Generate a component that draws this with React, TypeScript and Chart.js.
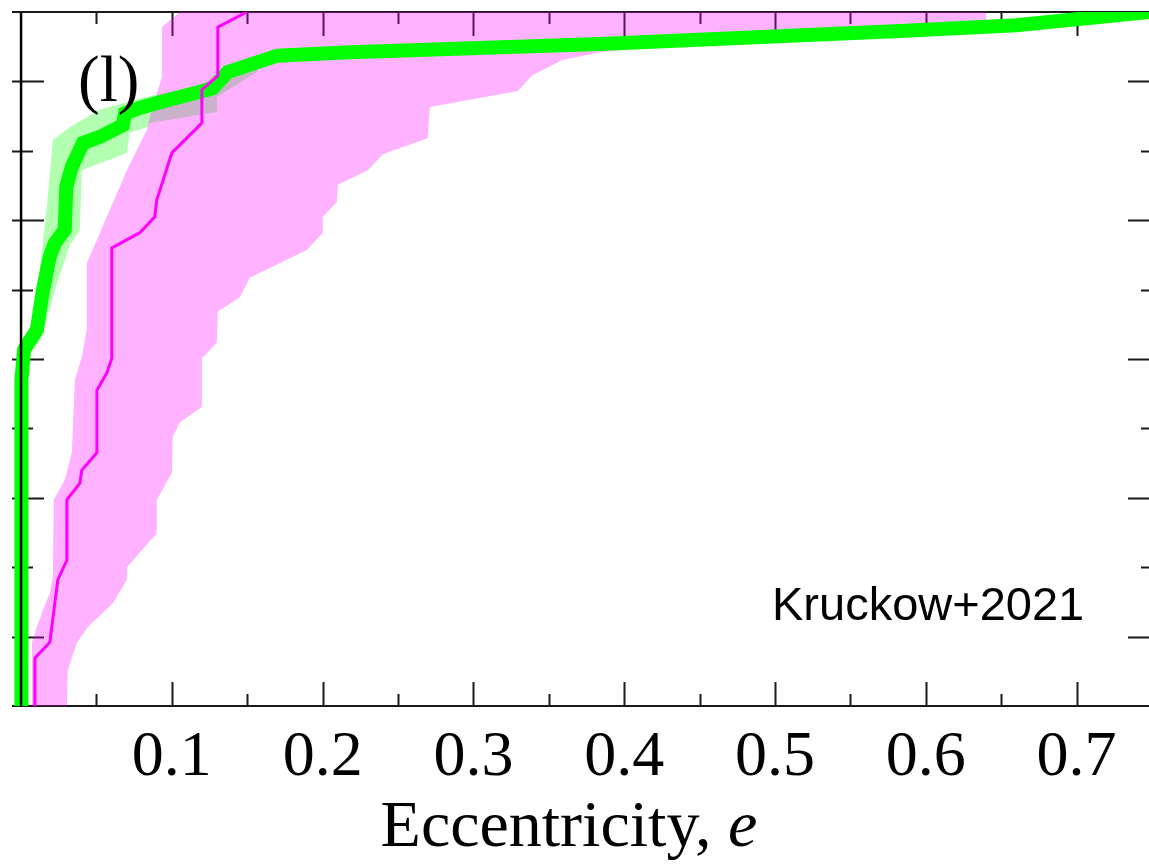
import React, { useEffect, useRef } from "react";
import { Chart, registerables } from "chart.js";

Chart.register(...registerables);

// ---- axis settings ----
const X_MIN = -0.006;
const X_MAX = 0.752;
const xLabelTicks = [0.1, 0.2, 0.3, 0.4, 0.5, 0.6, 0.7];
const xTickMarks = [0.05, 0.1, 0.15, 0.2, 0.25, 0.3, 0.35, 0.4, 0.45, 0.5, 0.55, 0.6, 0.65, 0.7, 0.75];
const yTickMarks = [0.1, 0.2, 0.3, 0.4, 0.5, 0.6, 0.7, 0.8, 0.9];

// ---- black CDF (all e ~ 0) ----
const blackE = [0, 0];
const blackCdf = [0, 1];

// ---- green CDF (thick line) ----
const greenE = [0, 0, 0.0005, 0.002, 0.006, 0.0105, 0.0125, 0.0145, 0.019, 0.0224, 0.029, 0.03, 0.0337, 0.041, 0.0523, 0.0675, 0.069, 0.079, 0.097, 0.1186, 0.127, 0.137, 0.17, 0.218, 0.384, 0.583, 0.66, 0.748];
const greenCdf = [0, 0.412, 0.47, 0.513, 0.527, 0.542, 0.571, 0.599, 0.647, 0.667, 0.686, 0.748, 0.777, 0.811, 0.82, 0.837, 0.854, 0.862, 0.873, 0.885, 0.89, 0.9135, 0.937, 0.942, 0.954, 0.9726, 0.981, 1.0];

// ---- green uncertainty band ----
const gBandUpperE = [0.0058, 0.0098, 0.0131, 0.0171, 0.0211, 0.0324, 0.0523, 0.0742, 0.0874, 0.1186, 0.1385, 0.1584];
const gBandUpperCdf = [0.52, 0.585, 0.643, 0.719, 0.816, 0.834, 0.859, 0.873, 0.88, 0.893, 0.925, 0.935];
const gBandLowerE = [0.1564, 0.1299, 0.1299, 0.0854, 0.0834, 0.0721, 0.0702, 0.0403, 0.039, 0.0324, 0.0224, 0.0171, 0.011];
const gBandLowerCdf = [0.9135, 0.8775, 0.856, 0.84, 0.834, 0.826, 0.797, 0.772, 0.686, 0.664, 0.599, 0.556, 0.52];

// ---- magenta CDF ----
const magentaE = [0.0092, 0.0092, 0.0191, 0.0244, 0.0304, 0.0304, 0.039, 0.0403, 0.0503, 0.0503, 0.0569, 0.0602, 0.0602, 0.0788, 0.0887, 0.09, 0.1, 0.1199, 0.1199, 0.1305, 0.1305, 0.1497];
const magentaCdf = [0, 0.069, 0.092, 0.182, 0.21, 0.297, 0.321, 0.34, 0.365, 0.455, 0.48, 0.501, 0.66, 0.682, 0.705, 0.729, 0.797, 0.84, 0.888, 0.908, 0.978, 1.0];

// ---- magenta uncertainty band ----
const pBandUpperE = [0.0072, 0.0072, 0.0105, 0.0145, 0.0191, 0.0211, 0.0217, 0.029, 0.0337, 0.0357, 0.0403, 0.0436, 0.0436, 0.0569, 0.0702, 0.0834, 0.0867, 0.0934, 0.0934, 0.1053];
const pBandUpperCdf = [0, 0.091, 0.114, 0.138, 0.163, 0.186, 0.297, 0.326, 0.365, 0.47, 0.503, 0.542, 0.638, 0.705, 0.772, 0.83, 0.859, 0.906, 0.978, 1.0];
const pBandLowerE = [0.64, 0.64, 0.45, 0.384, 0.359, 0.339, 0.3294, 0.2711, 0.2697, 0.2399, 0.23, 0.2101, 0.2094, 0.2001, 0.2001, 0.1895, 0.1517, 0.1451, 0.1305, 0.1298, 0.1199, 0.1199, 0.1053, 0.1006, 0.1, 0.09, 0.09, 0.0702, 0.0702, 0.0609, 0.0443, 0.037, 0.031, 0.0304];
const pBandLowerCdf = [1.0, 0.974, 0.957, 0.942, 0.931, 0.909, 0.886, 0.863, 0.818, 0.795, 0.772, 0.751, 0.726, 0.705, 0.682, 0.657, 0.617, 0.589, 0.568, 0.523, 0.501, 0.431, 0.409, 0.388, 0.336, 0.297, 0.249, 0.2, 0.182, 0.148, 0.114, 0.091, 0.052, 0];

const toPts = (xs: number[], ys: number[]) => xs.map((x, i) => ({ x, y: ys[i] }));

const SERIF = "'Liberation Serif', 'DejaVu Serif', serif";
const SANS = "'Liberation Sans', Arial, sans-serif";

const framePlugin = {
  id: "frame",
  beforeDatasetsDraw(chart: any) {
    const { ctx, chartArea: a, scales } = chart;
    const x = scales.x;
    const y = scales.y;
    ctx.save();
    ctx.strokeStyle = "#1a1a1a";
    ctx.lineWidth = 2;
    ctx.beginPath();
    ctx.moveTo(a.left, a.top);
    ctx.lineTo(a.right, a.top);
    ctx.moveTo(a.left, a.bottom);
    ctx.lineTo(a.right, a.bottom);
    xTickMarks.forEach((v) => {
      const px = Math.round(x.getPixelForValue(v)) + 0.5;
      const major = Math.abs(v * 10 - Math.round(v * 10)) < 1e-6;
      const len = major ? 24 : 12;
      ctx.moveTo(px, a.top);
      ctx.lineTo(px, a.top + len);
      ctx.moveTo(px, a.bottom);
      ctx.lineTo(px, a.bottom - len);
    });
    yTickMarks.forEach((v, i) => {
      const py = Math.round(y.getPixelForValue(v)) + 0.5;
      const major = i % 2 === 0;
      ctx.moveTo(a.left, py);
      ctx.lineTo(a.left + (major ? 32 : 21), py);
      ctx.moveTo(a.right, py);
      ctx.lineTo(a.right - (major ? 27 : 14), py);
    });
    ctx.stroke();
    ctx.restore();
  },
  afterDraw(chart: any) {
    const { ctx, chartArea: a } = chart;
    ctx.save();
    ctx.fillStyle = "#000";
    ctx.textBaseline = "alphabetic";
    // panel label
    ctx.font = `65px ${SERIF}`;
    ctx.textAlign = "left";
    ctx.fillText("(l)", a.left + 66, 101);
    // reference label
    ctx.font = `47px ${SANS}`;
    ctx.fillText("Kruckow+2021", 772, 620);
    // axis title: "Eccentricity, " + italic e
    const t1 = "Eccentricity, ";
    const t2 = "e";
    ctx.font = `66px ${SERIF}`;
    const w1 = ctx.measureText(t1).width;
    ctx.font = `italic 66px ${SERIF}`;
    const w2 = ctx.measureText(t2).width;
    const cx = 569;
    const start = cx - (w1 + w2) / 2;
    ctx.font = `66px ${SERIF}`;
    ctx.fillText(t1, start, 846);
    ctx.font = `italic 66px ${SERIF}`;
    ctx.fillText(t2, start + w1, 846);
    ctx.restore();
  },
};

export default function App() {
  const ref = useRef<HTMLCanvasElement | null>(null);

  useEffect(() => {
    if (!ref.current) return;
    const pinkPoly = [...toPts(pBandUpperE, pBandUpperCdf), ...toPts(pBandLowerE, pBandLowerCdf)];
    const greenPoly = [...toPts(gBandUpperE, gBandUpperCdf), ...toPts(gBandLowerE, gBandLowerCdf)];
    const chart = new Chart(ref.current, {
      type: "line",
      data: {
        datasets: [
          {
            label: "green band",
            data: greenPoly,
            borderWidth: 0,
            backgroundColor: "rgba(0,255,0,0.3)",
            fill: "shape",
            pointRadius: 0,
            order: 5,
          } as any,
          {
            label: "magenta band",
            data: pinkPoly,
            borderWidth: 0,
            backgroundColor: "rgba(255,0,255,0.3)",
            fill: "shape",
            pointRadius: 0,
            order: 4,
          } as any,
          {
            label: "green",
            data: toPts(greenE, greenCdf),
            borderColor: "#00ff00",
            borderWidth: 14,
            fill: false,
            pointRadius: 0,
            order: 3,
          },
          {
            label: "magenta",
            data: toPts(magentaE, magentaCdf),
            borderColor: "#ff00ff",
            borderWidth: 3,
            fill: false,
            pointRadius: 0,
            order: 2,
          },
          {
            label: "black",
            data: toPts(blackE, blackCdf),
            borderColor: "#000000",
            borderWidth: 2.5,
            fill: false,
            pointRadius: 0,
            order: 1,
          },
        ],
      },
      options: {
        responsive: false,
        animation: false,
        devicePixelRatio: 1,
        layout: { padding: { left: 12, top: 12, right: 5, bottom: 0 } },
        elements: { line: { tension: 0, borderJoinStyle: "miter", borderCapStyle: "butt" } },
        plugins: { legend: { display: false }, tooltip: { enabled: false } },
        scales: {
          x: {
            type: "linear",
            min: X_MIN,
            max: X_MAX,
            grid: { display: false },
            border: { display: false },
            afterBuildTicks: (scale: any) => {
              scale.ticks = xLabelTicks.map((v) => ({ value: v }));
            },
            afterFit: (scale: any) => {
              scale.height = 159;
            },
            ticks: {
              autoSkip: false,
              maxRotation: 0,
              padding: 6,
              color: "#000",
              font: { family: SERIF, size: 64 },
              callback: (v: any) => Number(v).toFixed(1),
            },
          },
          y: {
            type: "linear",
            display: false,
            min: 0,
            max: 1,
          },
        },
      },
      plugins: [framePlugin],
    });
    return () => chart.destroy();
  }, []);

  return (
    <div
      style={{
        position: "fixed",
        left: 0,
        top: 0,
        width: 1149,
        height: 865,
        overflow: "hidden",
        background: "#fff",
      }}
    >
      <canvas ref={ref} width={1160} height={865} style={{ display: "block", width: 1160, height: 865 }} />
    </div>
  );
}
